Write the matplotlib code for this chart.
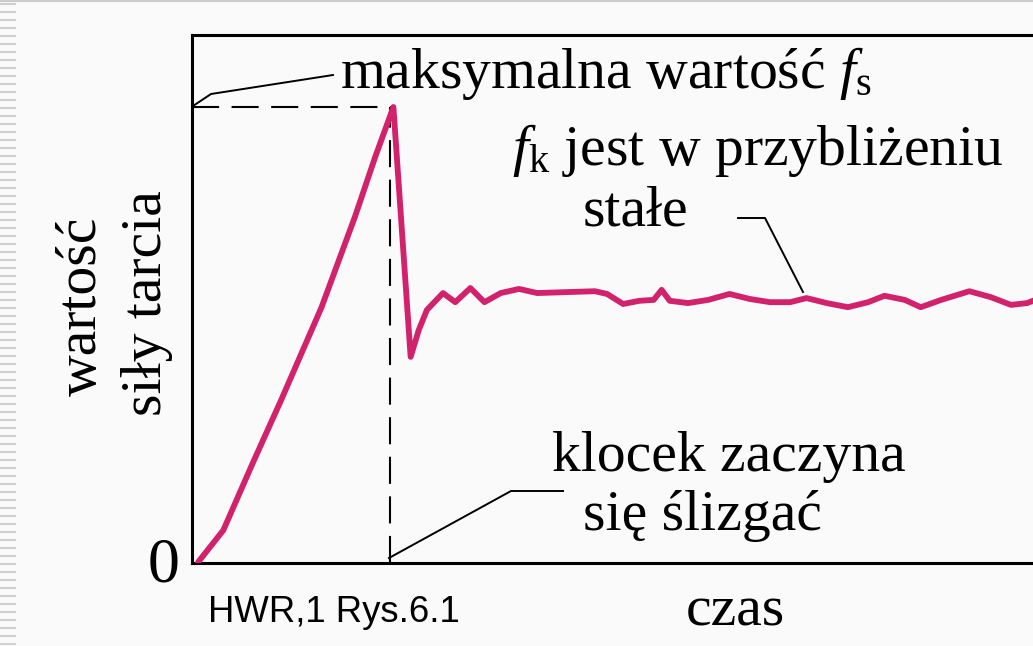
import numpy as np
import matplotlib
matplotlib.use('Agg')
import matplotlib.pyplot as plt
from matplotlib.lines import Line2D

# czas (t = 1 -> klocek zaczyna sie slizgac), sila tarcia (f_s max = 1)
czas = [0.031, 0.158, 0.306, 0.449, 0.653, 0.821, 0.923, 1.015, 1.102,
        1.143, 1.184, 1.265, 1.327, 1.403, 1.474, 1.556, 1.648, 1.740,
        1.883, 2.031, 2.092, 2.173, 2.255, 2.327, 2.367, 2.408, 2.500,
        2.602, 2.709, 2.811, 2.913, 3.015, 3.097, 3.199, 3.306, 3.408,
        3.490, 3.592, 3.673, 3.776, 3.918, 4.026, 4.128, 4.209, 4.250]
sila = [0.002, 0.072, 0.219, 0.357, 0.561, 0.759, 0.890, 1.000, 0.452,
        0.511, 0.555, 0.592, 0.572, 0.603, 0.572, 0.592, 0.601, 0.592,
        0.594, 0.596, 0.590, 0.568, 0.575, 0.577, 0.599, 0.575, 0.570,
        0.577, 0.590, 0.579, 0.572, 0.572, 0.581, 0.570, 0.561, 0.572,
        0.586, 0.577, 0.561, 0.577, 0.596, 0.583, 0.566, 0.570, 0.577]

W, H = 1033, 646
SERIF = 'Liberation Serif'
plt.rcParams['mathtext.fontset'] = 'custom'
plt.rcParams['mathtext.rm'] = SERIF
plt.rcParams['mathtext.it'] = SERIF + ':italic'

def px(x, y):
    # pixel position -> figure fraction
    return x / W, 1 - y / H

fig = plt.figure(figsize=(W / 100, H / 100), dpi=100)
fig.patch.set_facecolor('#fafafa')
ax = fig.add_axes([192 / W, 1 - 563 / H, (W - 192) / W + 0.01, (563 - 35) / H])
ax.set_facecolor('#fafafa')
ax.set_xlim(0, (W - 192) / 196)
ax.set_ylim(0, (563 - 35) / 456)
for s in ['left', 'bottom', 'top']:
    ax.spines[s].set_linewidth(2.2)
ax.spines['right'].set_visible(False)
ax.set_xticks([])
ax.set_yticks([])

ax.plot(czas, sila, color='#d2226c', lw=4.2, solid_joinstyle='round',
        solid_capstyle='round', zorder=3)

i = int(np.argmax(sila))
ax.plot([0, czas[i]], [sila[i], sila[i]], color='black', lw=1.5, dashes=(13, 6))
ax.plot([czas[i] - 0.015, czas[i] - 0.015], [0, sila[i]], color='black', lw=1.5, dashes=(13, 6))

# leader lines
for pts in [[(193, 106), (211, 94), (333, 75)],
            [(738, 218), (765, 218), (803, 292)],
            [(389, 558), (511, 491), (563, 491)]]:
    xs, ys = zip(*[px(*p) for p in pts])
    fig.add_artist(Line2D(xs, ys, color='black', lw=1.4))

fs = 41.5
def txt(x, y, s, **kw):
    kw.setdefault('fontsize', fs)
    kw.setdefault('family', SERIF)
    fig.text(*px(x, y), s, transform=fig.transFigure, **kw)

txt(340, 88, 'maksymalna wartość $f_{\\mathrm{s}}$', va='baseline')
txt(512, 165, '$f_{\\mathrm{k}}$ jest w przybliżeniu', va='baseline')
txt(583, 226, 'stałe', va='baseline')
txt(552, 471, 'klocek zaczyna', va='baseline')
txt(583, 530, 'się ślizgać', va='baseline')
txt(735, 612, 'czas', ha='center', va='center')
txt(180, 566, '0', ha='right', va='center', fontsize=46)
txt(82, 306, 'wartość', rotation=90, ha='center', va='center')
txt(147, 303, 'siły tarcia', rotation=90, ha='center', va='center')
txt(208, 622, 'HWR,1 Rys.6.1', va='baseline', family='Liberation Sans', fontsize=26.3)

# slide stripes on the left edge
for y in np.arange(4, H, 8):
    fig.add_artist(Line2D([0, 15 / W], [1 - y / H] * 2, color='#cfcfcf', lw=1.5))
fig.add_artist(Line2D([0, 1], [1 - 1 / H] * 2, color='#cccccc', lw=1.5))

fig.savefig('out.png', dpi=100, facecolor=fig.get_facecolor())
